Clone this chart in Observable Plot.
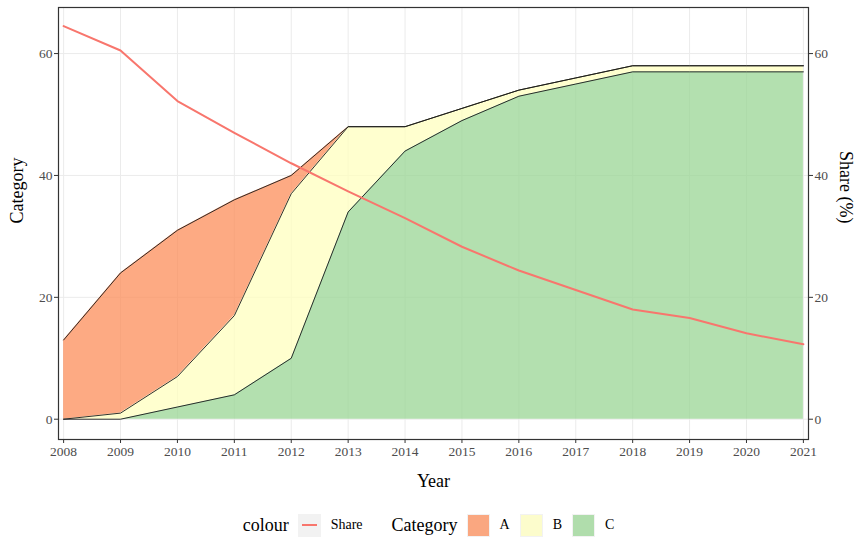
<!DOCTYPE html>
<html>
<head>
<meta charset="utf-8">
<script src="https://cdn.jsdelivr.net/npm/d3@7"></script>
<script src="https://cdn.jsdelivr.net/npm/@observablehq/plot@0.6"></script>
<style>
  html, body { margin: 0; padding: 0; background: #fff; }
  #chart { width: 867px; }
  .legend { width: 867px; height: 50px; display: flex; justify-content: center; align-items: center;
            font-family: "Liberation Serif", "Times New Roman", serif; color: #000; }
  .legend .title { font-size: 18px; margin-right: 9px; }
  .legend .lab { font-size: 14px; margin-left: 10px; margin-right: 10px; }
  .legend .key { width: 23px; height: 23px; background: #F2F2F2; position: relative; box-sizing: border-box; }
  .legend .key .fill { position: absolute; left: 1px; top: 1px; right: 1px; bottom: 1px; }
  .legend .key .line { position: absolute; left: 4px; right: 4px; top: 10.5px; height: 2px; background: #F8766D; }
  .legend .gap { width: 19px; }
</style>
</head>
<body>
<div id="chart"></div>
<script>
const years = [2008, 2009, 2010, 2011, 2012, 2013, 2014, 2015, 2016, 2017, 2018, 2019, 2020, 2021];
const catA  = [13, 23, 24, 19, 3, 0, 0, 0, 0, 0, 0, 0, 0, 0];
const catB  = [0, 1, 5, 13, 27, 14, 4, 2, 1, 1, 1, 1, 1, 1];
const catC  = [0, 0, 2, 4, 10, 34, 44, 49, 53, 55, 57, 57, 57, 57];
const share = [64.5, 60.5, 52.2, 47.0, 42.0, 37.4, 33.0, 28.3, 24.4, 21.2, 18.0, 16.6, 14.1, 12.3];
const categories = ["A", "B", "C"];
const categoryColors = ["#FC8D59", "#FFFFBF", "#99D594"];
const yTicks = [0, 20, 40, 60];
const stackOrder = ["C", "B", "A"];

const seriesByCat = {A: catA, B: catB, C: catC};
const table = [];
for (const c of stackOrder) years.forEach((yr, i) => table.push({year: yr, cat: c, value: seriesByCat[c][i]}));
const shareTable = years.map((yr, i) => ({year: yr, share: share[i]}));

const font = "Liberation Serif, Times New Roman, serif";

const chart = Plot.plot({
  width: 867,
  height: 500,
  marginLeft: 58,
  marginRight: 59,
  marginTop: 7,
  marginBottom: 61,
  style: {fontFamily: font, fontSize: "13.5px", background: "#fff", overflow: "visible"},
  x: {domain: [2007.91, 2021.09]},
  y: {domain: [-3.33, 67.56]},
  color: {domain: categories, range: categoryColors},
  marks: [
    Plot.gridX(years, {stroke: "#EBEBEB", strokeOpacity: 1, strokeWidth: 1}),
    Plot.gridY(yTicks, {stroke: "#EBEBEB", strokeOpacity: 1, strokeWidth: 1}),
    Plot.areaY(table, Plot.stackY({x: "year", y: "value", z: "cat", fill: "cat", fillOpacity: 0.75, order: stackOrder})),
    Plot.lineY(table, Plot.stackY2({x: "year", y: "value", z: "cat", order: stackOrder, stroke: "#1a1a1a", strokeWidth: 0.9})),
    Plot.lineY(shareTable, {x: "year", y: "share", stroke: "#F8766D", strokeWidth: 2}),
    Plot.frame({stroke: "#333333", strokeWidth: 1.2}),
    Plot.axisX(years, {tickFormat: d => String(d), tickSize: 4, tickPadding: 3, stroke: "#333333", fill: "#4D4D4D", label: null}),
    Plot.axisY(yTicks, {anchor: "left", tickSize: 4, tickPadding: 2, stroke: "#333333", fill: "#4D4D4D", label: null}),
    Plot.axisY(yTicks, {anchor: "right", tickSize: 4, tickPadding: 2, stroke: "#333333", fill: "#4D4D4D", label: null}),
    Plot.text(["Year"], {frameAnchor: "bottom", dy: 47, fontSize: 18, fill: "#000"}),
    Plot.text(["Category"], {frameAnchor: "left", dx: -41, rotate: -90, fontSize: 18, fill: "#000"}),
    Plot.text(["Share (%)"], {frameAnchor: "right", dx: 37, rotate: 90, fontSize: 18, fill: "#000"})
  ]
});
document.getElementById("chart").appendChild(chart);

// legend below the SVG
const legend = document.createElement("div");
legend.className = "legend";
let html = `<span class="title">colour</span><span class="key"><span class="line"></span></span><span class="lab">Share</span>`;
html += `<span class="gap"></span><span class="title">Category</span>`;
categories.forEach((c, i) => {
  const col = d3.color(categoryColors[i]); col.opacity = 0.75;
  html += `<span class="key"><span class="fill" style="background:${col.formatRgb()}"></span></span><span class="lab">${c}</span>`;
});
legend.innerHTML = html;
document.getElementById("chart").appendChild(legend);
</script>
</body>
</html>
